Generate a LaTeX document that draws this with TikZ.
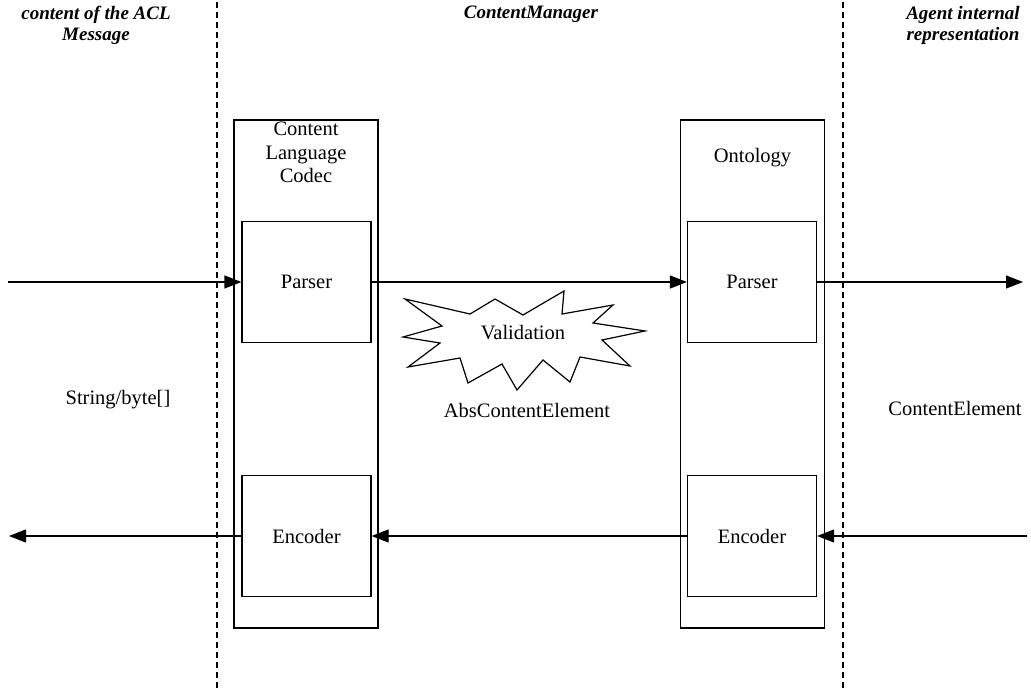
\documentclass[tikz,border=0pt]{standalone}
\usepackage{fontspec}
\setmainfont{Liberation Serif}
\usetikzlibrary{arrows.meta}
\begin{document}
\begin{tikzpicture}[x=1pt,y=-1pt,
  every node/.style={font=\fontsize{20.5}{23.5}\selectfont},
  frame/.style={draw, line width=1.2pt, inner sep=0pt, minimum width=144pt, minimum height=508pt},
  part/.style={draw, line width=1.2pt, inner sep=0pt, minimum width=129pt, minimum height=121pt},
  head/.style={font=\fontsize{19}{21}\selectfont\bfseries\itshape, align=center},
  flow/.style={line width=1.2pt, -{Triangle[length=17pt,width=13pt]}},
  sep/.style={line width=1.1pt, dash pattern=on 6pt off 4pt},
  label/.style={inner sep=0pt}]
\useasboundingbox (0,0) rectangle (1031,693);
% separators
\coordinate (s1t) at (217,2);
\coordinate (s1b) at (217,690);
\coordinate (s2t) at (843,2);
\coordinate (s2b) at (843,690);
\draw[sep] (s1t) -- (s1b);
\draw[sep] (s2t) -- (s2b);
% headers
\node[head] (h1) at (96,25) {content of the ACL\\Message};
\node[head] (h2) at (531,14) {ContentManager};
\node[head] (h3) at (963,25) {Agent internal\\representation};
% frames
\node[frame] (codec) at (306,374) {};
\node[frame] (onto) at (752.5,374) {};
\node[label, anchor=north, align=center] (codect) at (306,122) {Content\\Language\\Codec};
\node[label] (ontot) at (752.5,158) {Ontology};
% parts
\node[part] (cp) at (306.5,282) {Parser};
\node[part] (ce) at (306.5,536) {Encoder};
\node[part] (op) at (752,282) {Parser};
\node[part] (oe) at (752,536) {Encoder};
% free ends
\coordinate (inL) at (8,282);
\coordinate (outR) at (1023,282);
\coordinate (inR) at (1027,536);
\coordinate (outL) at (9,536);
\draw[flow] (inL) -- (cp.west);
\draw[flow] (cp.east) -- (op.west);
\draw[flow] (op.east) -- (outR);
\draw[flow] (inR) -- (oe.east);
\draw[flow] (oe.west) -- (ce.east);
\draw[flow] (ce.west) -- (outL);
% validation star
\draw[line width=1.2pt, fill=white] (405,299) -- (470,314) -- (495,299) -- (523,315) -- (564,291) -- (562,314) -- (613,305) -- (593,323) -- (645,331) -- (602,340) -- (630,366) -- (580,357) -- (570,382) -- (543,360) -- (517,390) -- (502,364) -- (468,383) -- (460,358) -- (408,367) -- (440,343) -- (403,337) -- (442,326) -- cycle;
\node[label] (val) at (523,333) {Validation};
\node[label] (abs) at (527,410) {AbsContentElement};
\node[label] (str) at (118,400) {String/byte[]};
\node[label] (ce2) at (955,408) {ContentElement};
\end{tikzpicture}
\end{document}
